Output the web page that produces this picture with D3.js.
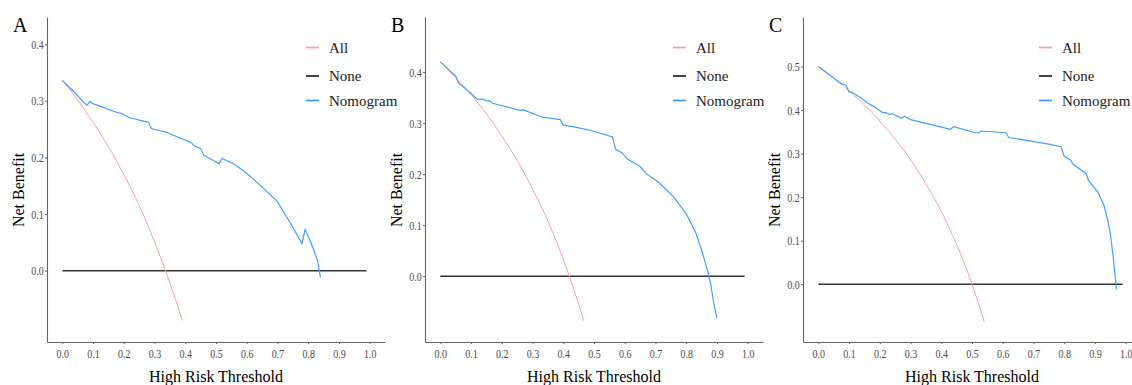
<!DOCTYPE html>
<html>
<head>
<meta charset="utf-8">
<script src="https://cdn.jsdelivr.net/npm/d3@7"></script>
<style>
  body { margin: 0; background: #fff; }
  svg { display: block; font-family: "Liberation Serif", "Times New Roman", serif; }
</style>
</head>
<body>
<svg id="chart" width="1132" height="385"></svg>
<script>
// thresholds and net benefit values
const panelLabels = ["A", "B", "C"];
const seriesNames = ["All", "None", "Nomogram"];
const xTicks = [0, 0.1, 0.2, 0.3, 0.4, 0.5, 0.6, 0.7, 0.8, 0.9, 1.0];
const yTicksA = [0, 0.1, 0.2, 0.3, 0.4];
const yTicksB = [0, 0.1, 0.2, 0.3, 0.4];
const yTicksC = [0, 0.1, 0.2, 0.3, 0.4, 0.5];

const noneX = [0, 0.99];
const noneY = [0, 0];

const allXA = [0, 0.05, 0.10, 0.15, 0.20, 0.25, 0.30, 0.35, 0.375, 0.39];
const allYA = [0.336, 0.301, 0.262, 0.219, 0.170, 0.115, 0.051, -0.022, -0.062, -0.088];
const nomXA = [0, 0.03, 0.08, 0.09, 0.10, 0.18, 0.19, 0.22, 0.28, 0.29, 0.34, 0.42, 0.43, 0.45, 0.46,
               0.51, 0.52, 0.56, 0.60, 0.65, 0.70, 0.74, 0.78, 0.79, 0.81, 0.83, 0.84];
const nomYA = [0.336, 0.320, 0.292, 0.299, 0.295, 0.279, 0.278, 0.270, 0.262, 0.251, 0.244, 0.226, 0.220, 0.216, 0.204,
               0.189, 0.198, 0.188, 0.172, 0.148, 0.122, 0.086, 0.048, 0.073, 0.048, 0.019, -0.012];

const allXB = [0, 0.05, 0.10, 0.15, 0.20, 0.25, 0.30, 0.35, 0.40, 0.45, 0.467];
const allYB = [0.420, 0.389, 0.356, 0.318, 0.275, 0.227, 0.171, 0.108, 0.033, -0.055, -0.088];
const nomXB = [0, 0.05, 0.06, 0.10, 0.12, 0.14, 0.15, 0.16, 0.17, 0.26, 0.27, 0.33, 0.39, 0.40, 0.44, 0.50,
               0.56, 0.57, 0.59, 0.61, 0.65, 0.67, 0.71, 0.76, 0.80, 0.83, 0.85, 0.86, 0.87, 0.88, 0.89, 0.90];
const nomYB = [0.420, 0.392, 0.378, 0.358, 0.347, 0.347, 0.343, 0.344, 0.339, 0.325, 0.326, 0.312, 0.307, 0.296, 0.292, 0.284,
               0.273, 0.249, 0.242, 0.229, 0.215, 0.201, 0.184, 0.155, 0.122, 0.087, 0.052, 0.031, 0.010, -0.016, -0.054, -0.082];

const allXC = [0, 0.05, 0.10, 0.15, 0.20, 0.25, 0.30, 0.35, 0.40, 0.45, 0.50, 0.54];
const allYC = [0.500, 0.474, 0.444, 0.412, 0.375, 0.333, 0.286, 0.231, 0.167, 0.091, 0.0, -0.087];
const nomXC = [0, 0.07, 0.09, 0.10, 0.11, 0.14, 0.17, 0.18, 0.21, 0.22, 0.23, 0.24, 0.27, 0.28, 0.30, 0.43, 0.44,
               0.51, 0.52, 0.53, 0.61, 0.62, 0.75, 0.79, 0.80, 0.82, 0.83, 0.87, 0.88, 0.91, 0.93, 0.94, 0.95, 0.96, 0.97];
const nomYC = [0.500, 0.463, 0.457, 0.442, 0.441, 0.427, 0.412, 0.409, 0.394, 0.394, 0.390, 0.392, 0.381, 0.386, 0.378, 0.356, 0.362,
               0.348, 0.348, 0.352, 0.348, 0.337, 0.322, 0.316, 0.294, 0.286, 0.275, 0.255, 0.238, 0.211, 0.180, 0.152, 0.117, 0.060, -0.012];

const colors = { All: "#ff9f9f", None: "#333333", Nomogram: "#3fa0ff" };

const panels = [
  { label: "A", yDomain: [-0.126, 0.448], yTicks: yTicksA, all: [allXA, allYA], nom: [nomXA, nomYA], legendX: 306 },
  { label: "B", yDomain: [-0.129, 0.508], yTicks: yTicksB, all: [allXB, allYB], nom: [nomXB, nomYB], legendX: 295 },
  { label: "C", yDomain: [-0.133, 0.614], yTicks: yTicksC, all: [allXC, allYC], nom: [nomXC, nomYC], legendX: 283 }
];

const svg = d3.select("#chart");
const panelW = 378;
const plotTop = 17, plotBottom = 342;

function zip(xs, ys) { return xs.map((x, i) => [x, ys[i]]); }

panels.forEach((p, i) => {
  const ox = i * panelW;
  const g = svg.append("g");

  const x = d3.scaleLinear().domain([-0.05, 1.05]).range([ox + 47, ox + 385]);
  const y = d3.scaleLinear().domain(p.yDomain).range([plotBottom, plotTop]);

  const line = d3.line().x(d => x(d[0])).y(d => y(d[1]));

  // axes
  const xAxis = g.append("g")
      .attr("transform", `translate(0,${plotBottom})`)
      .call(d3.axisBottom(x).tickValues(xTicks).tickFormat(d3.format(".1f")).tickSize(2).tickPadding(5).tickSizeOuter(0));
  const yAxis = g.append("g")
      .attr("transform", `translate(${ox + 47},0)`)
      .call(d3.axisLeft(y).tickValues(p.yTicks).tickFormat(d3.format(".1f")).tickSize(2).tickPadding(2).tickSizeOuter(0));

  [xAxis, yAxis].forEach(a => {
    a.select(".domain").attr("stroke", "#666").attr("stroke-width", 1.1);
    a.selectAll(".tick line").attr("stroke", "#666");
    a.selectAll(".tick text")
      .attr("fill", "#4d4d4d")
      .style("font-family", "Liberation Serif")
      .style("font-size", "12.5px");
  });
  xAxis.selectAll(".tick text").attr("transform", "scale(0.8,1)");
  yAxis.selectAll(".tick text").attr("transform", "scale(0.8,1)");

  // curves
  g.append("path")
    .attr("d", line(zip(noneX, noneY)))
    .attr("fill", "none").attr("stroke", colors.None).attr("stroke-width", 1.5);
  g.append("path")
    .attr("d", line.curve(d3.curveMonotoneX)(zip(p.all[0], p.all[1])))
    .attr("fill", "none").attr("stroke", colors.All).attr("stroke-width", 1);
  g.append("path")
    .attr("d", line.curve(d3.curveLinear)(zip(p.nom[0], p.nom[1])))
    .attr("fill", "none").attr("stroke", colors.Nomogram).attr("stroke-width", 1.2);

  // titles
  g.append("text")
    .attr("x", ox + 13).attr("y", 32)
    .style("font-size", "20px").attr("fill", "#000")
    .text(p.label);
  g.append("text")
    .attr("x", x(0.5)).attr("y", 382)
    .attr("text-anchor", "middle")
    .style("font-size", "16px").attr("fill", "#000")
    .text("High Risk Threshold");
  g.append("text")
    .attr("transform", `translate(${ox + 24},190) rotate(-90)`)
    .attr("text-anchor", "middle")
    .style("font-size", "16px").attr("fill", "#000")
    .text("Net Benefit");

  // legend
  const legend = g.append("g").attr("transform", `translate(${ox + p.legendX},0)`);
  seriesNames.forEach((name, k) => {
    const ly = [47.5, 76, 100.5][k];
    legend.append("line")
      .attr("x1", 0).attr("x2", 13).attr("y1", ly).attr("y2", ly)
      .attr("stroke", colors[name]).attr("stroke-width", 1.8);
    legend.append("text")
      .attr("x", 23).attr("y", ly + 5)
      .style("font-size", "15px").attr("fill", "#222")
      .text(name);
  });
});
</script>
</body>
</html>
